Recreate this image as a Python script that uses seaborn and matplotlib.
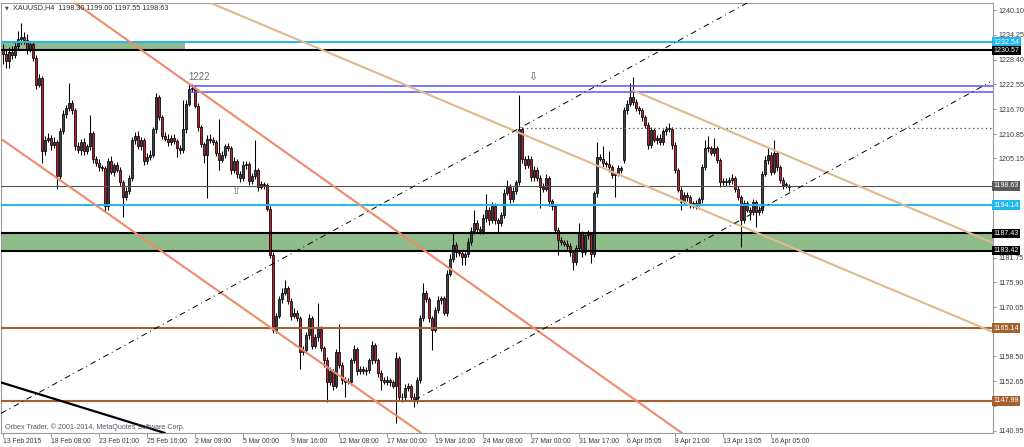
import numpy as np
import pandas as pd
import matplotlib
matplotlib.use("Agg")
import matplotlib.pyplot as plt
import seaborn as sns

# ---- candle data (XAUUSD H4) ----
FIRST_OPEN = 1231.0
CLOSES = [
    1229.8, 1228.0, 1230.2, 1229.5, 1231.5, 1233.2, 1233.8, 1233.0, 1230.8, 1232.0,
    1228.8, 1222.5, 1224.0, 1206.8, 1209.5, 1210.0, 1208.2, 1209.0, 1201.0, 1211.5,
    1215.5, 1217.0, 1218.2, 1216.5, 1208.0, 1207.0, 1209.0, 1206.8, 1208.0, 1211.0,
    1205.0, 1204.0, 1203.0, 1202.8, 1193.8, 1204.5, 1202.0, 1203.5, 1202.5, 1199.5,
    1196.0, 1197.5, 1200.5, 1209.5, 1210.5, 1208.0, 1209.5, 1204.5, 1205.5, 1206.0,
    1212.0, 1219.5, 1214.8, 1210.5, 1209.8, 1209.0, 1210.0, 1209.2, 1207.5, 1207.0,
    1212.0, 1218.0, 1221.5, 1221.8, 1217.5, 1212.5, 1208.5, 1206.0, 1209.8, 1209.5,
    1209.0, 1206.5, 1204.8, 1206.0, 1208.0, 1207.5, 1202.4, 1204.5, 1201.4, 1200.5,
    1203.5, 1203.8, 1199.8, 1201.0, 1202.4, 1198.5, 1199.0, 1198.8, 1193.3, 1182.4,
    1164.7, 1168.0, 1172.0, 1173.5, 1174.5, 1171.5, 1168.0, 1168.8, 1167.5, 1159.5,
    1160.0, 1163.5, 1167.5, 1161.0, 1163.0, 1165.0, 1160.5, 1157.5, 1152.5, 1155.0,
    1151.5, 1159.5, 1156.5, 1153.0, 1152.5, 1152.5, 1157.5, 1160.2, 1155.0, 1155.5,
    1155.0, 1155.2, 1157.5, 1161.2, 1157.5, 1154.5, 1153.0, 1152.5, 1152.8, 1152.5,
    1151.5, 1158.0, 1149.0, 1148.8, 1151.0, 1151.5, 1149.0, 1148.0, 1152.9, 1167.5,
    1173.4, 1172.0, 1167.5, 1164.7, 1169.4, 1171.8, 1172.2, 1168.8, 1178.0, 1181.5,
    1184.8, 1183.0, 1182.8, 1182.0, 1182.5, 1185.5, 1188.0, 1190.0, 1188.5, 1188.0,
    1191.0, 1193.0, 1190.5, 1194.0, 1190.5, 1189.8, 1191.8, 1197.0, 1198.5, 1195.5,
    1197.5, 1199.5, 1212.0, 1205.0, 1203.5, 1205.0, 1200.7, 1202.5, 1200.5, 1198.5,
    1198.0, 1200.5, 1195.0, 1193.8, 1188.2, 1186.0, 1185.5, 1185.0, 1184.5, 1183.0,
    1180.7, 1184.0, 1187.5, 1183.0, 1187.0, 1187.2, 1182.6, 1196.9, 1205.4, 1205.0,
    1204.0, 1203.8, 1203.0, 1201.2, 1201.5, 1202.8, 1202.5, 1216.5, 1218.0, 1219.5,
    1218.5, 1217.0, 1216.5, 1214.8, 1213.0, 1208.3, 1211.8, 1209.5, 1210.0, 1209.0,
    1211.5, 1212.0, 1212.0, 1208.3, 1202.4, 1197.7, 1194.8, 1196.5, 1196.0, 1194.5,
    1194.0, 1194.5, 1195.5, 1203.1, 1207.6, 1207.5, 1206.5, 1207.5, 1204.7, 1199.5,
    1199.8, 1199.5, 1200.0, 1200.5, 1198.0, 1196.0, 1190.6, 1194.5, 1193.0, 1192.5,
    1194.8, 1192.5, 1193.0, 1201.5, 1204.7, 1206.0, 1202.0, 1206.3, 1203.0, 1200.0,
    1198.8, 1198.9, 1198.63,
]
# opens that do not equal the previous close (weekend gap, last bar)
OPEN_GAPS = {207: 1204.7, 262: 1198.30}
UP_WICK = [
    1.0, 0.8, 1.2, 1.5, 1.0, 2.0, 3.2, 1.0, 1.5, 0.8,
    0.6, 0.8, 1.0, 0.5, 0.8, 1.0, 0.6, 1.2, 0.5, 0.8,
    1.0, 0.8, 4.6, 0.6, 0.5, 1.0, 0.8, 1.0, 0.6, 4.3,
    0.5, 0.8, 1.0, 0.6, 0.5, 0.8, 1.2, 0.6, 0.8, 0.5,
    0.6, 1.0, 0.8, 0.6, 0.8, 1.0, 0.6, 0.5, 0.8, 1.0,
    0.6, 1.0, 0.5, 0.6, 0.8, 1.0, 0.6, 0.8, 0.5, 0.8,
    7.0, 1.0, 1.5, 0.8, 0.5, 0.6, 0.5, 0.6, 0.8, 1.0,
    0.6, 0.5, 8.0, 0.8, 0.6, 0.8, 0.5, 1.0, 0.6, 0.8,
    1.0, 0.6, 0.5, 0.8, 7.1, 0.5, 0.8, 0.6, 0.5, 0.5,
    0.6, 0.8, 0.6, 1.0, 2.0, 0.6, 0.8, 1.0, 0.6, 0.5,
    0.8, 0.6, 1.0, 0.5, 0.8, 6.0, 0.6, 0.5, 0.8, 1.0,
    0.6, 0.8, 6.5, 0.6, 0.5, 0.8, 0.6, 1.0, 0.5, 0.8,
    0.6, 0.8, 0.6, 1.0, 0.5, 0.6, 0.8, 0.6, 1.0, 0.6,
    0.5, 1.5, 0.6, 0.8, 1.0, 0.6, 0.5, 0.8, 0.6, 0.8,
    2.4, 0.6, 0.5, 0.6, 0.8, 1.0, 0.6, 0.5, 0.8, 1.0,
    3.0, 0.6, 0.5, 0.8, 0.6, 0.8, 1.0, 3.0, 0.6, 0.8,
    1.0, 3.8, 0.6, 0.8, 0.5, 0.6, 0.8, 1.0, 1.5, 0.5,
    0.8, 0.6, 8.1, 0.6, 0.8, 1.0, 0.6, 0.8, 0.5, 0.6,
    0.8, 1.0, 0.5, 0.6, 0.5, 0.8, 0.6, 0.5, 0.8, 0.6,
    0.5, 0.8, 2.5, 0.6, 0.8, 1.0, 0.6, 0.5, 3.6, 0.8,
    3.0, 0.6, 3.0, 0.6, 0.5, 0.8, 0.6, 0.8, 1.0, 3.4,
    4.8, 0.6, 0.5, 0.6, 0.5, 0.6, 0.8, 0.5, 0.6, 0.8,
    0.6, 0.8, 1.5, 0.5, 0.6, 0.5, 0.6, 0.8, 0.6, 0.5,
    0.6, 0.8, 0.6, 0.8, 1.9, 2.7, 0.6, 2.5, 0.5, 0.6,
    0.8, 0.6, 0.8, 1.0, 0.5, 0.6, 0.5, 0.8, 0.6, 0.6,
    0.8, 0.6, 0.8, 0.6, 1.0, 1.8, 0.6, 3.2, 0.6, 0.5,
    0.8, 0.6, 0.37,
]
DOWN_WICK = [
    2.5, 1.5, 1.5, 1.0, 0.8, 0.6, 1.0, 0.8, 1.0, 0.6,
    0.8, 1.0, 0.6, 2.8, 0.8, 0.6, 1.0, 0.6, 3.2, 0.8,
    0.6, 0.8, 0.6, 1.0, 0.8, 0.6, 1.0, 0.8, 0.6, 0.8,
    1.0, 0.6, 0.8, 0.6, 1.3, 0.8, 0.6, 1.0, 0.6, 0.8,
    4.7, 0.6, 0.8, 0.6, 1.0, 0.6, 0.8, 1.0, 0.6, 0.8,
    0.6, 0.8, 0.6, 0.8, 0.6, 1.0, 0.8, 0.6, 2.0, 0.8,
    0.6, 0.8, 0.6, 0.8, 0.6, 0.8, 0.6, 2.0, 10.2, 0.8,
    0.6, 0.8, 2.4, 0.6, 0.8, 0.6, 1.0, 0.6, 0.8, 1.0,
    0.6, 0.8, 1.0, 0.6, 0.8, 1.0, 0.6, 0.8, 0.6, 0.8,
    0.7, 0.8, 0.6, 1.0, 0.6, 0.8, 1.0, 0.6, 0.8, 4.0,
    0.8, 0.6, 1.0, 0.8, 0.6, 1.0, 0.8, 1.5, 4.8, 0.8,
    1.0, 0.6, 0.8, 1.0, 3.5, 0.6, 0.8, 0.6, 1.0, 0.8,
    0.6, 1.0, 0.6, 0.8, 0.6, 1.0, 2.5, 0.6, 0.8, 1.0,
    0.6, 8.7, 0.8, 1.0, 0.6, 0.8, 1.0, 1.5, 0.6, 0.8,
    0.6, 0.8, 1.0, 4.7, 0.6, 0.8, 1.0, 0.6, 0.8, 0.6,
    0.8, 1.0, 0.6, 2.0, 2.0, 0.6, 0.8, 0.6, 1.0, 0.8,
    0.6, 0.8, 1.0, 0.6, 0.8, 2.3, 0.6, 0.8, 0.6, 1.0,
    0.6, 0.8, 0.6, 1.0, 0.8, 0.6, 1.0, 0.8, 0.6, 5.0,
    0.8, 0.6, 1.0, 0.8, 0.6, 3.6, 0.8, 0.6, 1.0, 0.8,
    1.9, 0.6, 0.8, 1.0, 0.6, 0.8, 2.1, 0.6, 0.8, 0.6,
    0.8, 0.6, 1.0, 0.8, 5.2, 0.6, 0.8, 0.6, 0.8, 0.6,
    0.8, 0.6, 1.0, 0.8, 0.6, 1.0, 0.8, 0.6, 1.0, 0.8,
    0.6, 0.8, 0.6, 1.0, 0.8, 0.6, 1.8, 0.6, 0.8, 1.0,
    0.6, 0.8, 0.6, 1.0, 0.6, 0.8, 0.6, 0.8, 0.6, 1.0,
    0.6, 0.8, 0.6, 1.0, 0.8, 0.6, 6.4, 0.8, 0.6, 2.0,
    0.8, 3.5, 0.6, 0.8, 0.6, 1.0, 0.8, 0.6, 0.8, 0.6,
    0.8, 0.6, 0.75,
]

# ---- axis labels ----
DATE_LABELS = ['13 Feb 2015', '18 Feb 08:00', '23 Feb 01:00', '25 Feb 16:00', '2 Mar 09:00',
               '5 Mar 00:00', '9 Mar 16:00', '12 Mar 08:00', '17 Mar 00:00', '19 Mar 16:00',
               '24 Mar 08:00', '27 Mar 00:00', '31 Mar 17:00', '6 Apr 05:05', '8 Apr 21:00',
               '13 Apr 13:05', '16 Apr 05:00']
DATE_BARS = [0, 16, 32, 48, 64, 80, 96, 112, 128, 144, 160, 176, 192, 208, 224, 240, 256]
PRICE_TICKS = [1240.10, 1234.25, 1228.40, 1222.55, 1216.70, 1210.85, 1205.15, 1199.30, 1193.45,
               1187.60, 1181.75, 1175.90, 1170.05, 1164.20, 1158.50, 1152.65, 1146.80, 1140.95]
# tick labels that sit under a price tag on the chart
HIDDEN_TICKS = [1199.30, 1193.45, 1187.60, 1164.20, 1146.80]

# ---- drawn objects (bar index, price) ----
CYAN_LEVELS = [1232.54, 1194.14]
BLACK_LEVELS = [1230.57, 1187.43, 1183.42]
BROWN_LEVELS = [1165.14, 1147.99]
LAST_PRICE = 1198.63
BLUE_LEVELS = [1222.2, 1220.8]
BLUE_START = 62.3
DOTTED_LEVEL = 1212.2
DOTTED_START = 173.0
ZONE_TOP = (60.7, 1230.57, 1232.54)
ZONE_MID = (1183.42, 1187.43)
SALMON_UPPER = [(27.3, 1240.1), (226.3, 1140.4)]
SALMON_LOWER = [(-1.0, 1209.9), (138.0, 1141.1)]
TAN_LONG = [(66.7, 1242.5), (330.0, 1164.2)]
TAN_SHORT = [(209.7, 1221.25), (330.0, 1185.2)]
DASH_UPPER = [(-1.0, 1144.9), (248.0, 1241.75)]
DASH_LOWER = [(137.3, 1148.2), (329.0, 1223.1)]
BLACK_TREND = [(-1.0, 1152.4), (54.0, 1140.4)]
PRICE_TAGS = [(1232.54, '#1fb8f0'), (1230.57, '#000000'), (1198.63, '#5a5a5a'),
              (1194.14, '#1fb8f0'), (1187.43, '#000000'), (1183.42, '#000000'),
              (1165.14, '#a5602f'), (1147.99, '#a5602f')]

sns.set_theme(style="white")
plt.rcParams['font.family'] = ['Liberation Sans', 'DejaVu Sans']

df = pd.DataFrame({'close': CLOSES, 'up': UP_WICK, 'dn': DOWN_WICK})
df['open'] = [FIRST_OPEN] + CLOSES[:-1]
for k, v in OPEN_GAPS.items():
    df.loc[k, 'open'] = v
df['top'] = df[['open', 'close']].max(axis=1)
df['bot'] = df[['open', 'close']].min(axis=1)
df['high'] = df['top'] + df['up']
df['low'] = df['bot'] - df['dn']
bull = df['close'] >= df['open']

fig = plt.figure(figsize=(10.24, 4.47), dpi=100)
ax = fig.add_axes([1 / 1024, 14 / 447, 992 / 1024, 430 / 447])
ax.set_facecolor('white')
ax.set_xlim(-0.67, 330)
ax.set_ylim(1140.41, 1241.75)

# support zones
ax.fill_between([-0.67, ZONE_TOP[0]], ZONE_TOP[1], ZONE_TOP[2], color='#8fbc8a', lw=0, zorder=1)
ax.axhspan(ZONE_MID[0], ZONE_MID[1], color='#8fbc8a', lw=0, zorder=1)

# candles
ax.vlines(df.index, df['low'], df['high'], color='black', lw=0.75, zorder=3)
heights = (df['top'] - df['bot']).clip(lower=0.2)
ax.bar(df.index[bull], heights[bull], bottom=df['bot'][bull], width=0.62,
       color='#3c434c', edgecolor='black', linewidth=0.55, zorder=4)
ax.bar(df.index[~bull], heights[~bull], bottom=df['bot'][~bull], width=0.62,
       color='#c41e30', edgecolor='black', linewidth=0.55, zorder=4)

# horizontal levels
for p in CYAN_LEVELS:
    ax.axhline(p, color='#1fb8f0', lw=1.4, zorder=5)
for p in BLACK_LEVELS:
    ax.axhline(p, color='black', lw=1.5, zorder=5)
for p in BROWN_LEVELS:
    ax.axhline(p, color='#a5602f', lw=1.5, zorder=5)
ax.axhline(LAST_PRICE, color='#505050', lw=0.8, zorder=5)
for p in BLUE_LEVELS:
    ax.hlines(p, BLUE_START, 330, color='#5555ff', lw=1.1, zorder=5)
ax.hlines(DOTTED_LEVEL, DOTTED_START, 330, color='#606060', lw=0.9, linestyles=(0, (1.2, 2.2)), zorder=5)

# trend lines
ax.axline(*SALMON_UPPER, color='#ef8a6a', lw=1.5, zorder=5)
ax.axline(*SALMON_LOWER, color='#ef8a6a', lw=1.5, zorder=5)
ax.axline(*TAN_LONG, color='#e0b98c', lw=1.5, zorder=5)
ax.plot(*zip(*TAN_SHORT), color='#e0b98c', lw=1.5, zorder=5)
ax.axline(*DASH_UPPER, color='black', lw=0.7, ls=(0, (6, 4, 1, 4)), zorder=5)
ax.plot(*zip(*DASH_LOWER), color='black', lw=0.7, ls=(0, (6, 4, 1, 4)), zorder=5)
ax.axline(*BLACK_TREND, color='black', lw=1.6, zorder=5)

# annotations
ax.text(65.5, 1224.3, '1222', fontsize=7, color='#6a6a6a', ha='center', va='center', zorder=6)
ax.text(77.7, 1197.4, '\u21e7', fontsize=8, color='#5a7fa8', ha='center', va='center',
        family='DejaVu Sans', zorder=6)
ax.text(176.7, 1224.4, '\u21e9', fontsize=8, color='#606060', ha='center', va='center',
        family='DejaVu Sans', zorder=6)
fig.text(5 / 1024, 1 - 8 / 447, '\u25bc', fontsize=3.5, color='#404040', va='center',
         family='DejaVu Sans')
fig.text(13 / 1024, 1 - 8 / 447, 'XAUUSD,H4  1198.30 1199.00 1197.55 1198.63', fontsize=5.2,
         color='#303030', va='center')
fig.text(5 / 1024, 1 - 427 / 447, 'Orbex Trader, \u00a9 2001-2014, MetaQuotes Software Corp.',
         fontsize=5.1, color='#4a5868', va='center')

# axes styling
for s in ax.spines.values():
    s.set_color('#9a9a9a')
    s.set_linewidth(0.8)
ax.yaxis.tick_right()
ax.set_yticks(PRICE_TICKS)
ax.set_yticklabels(['' if p in HIDDEN_TICKS else f'{p:.2f}' for p in PRICE_TICKS])
ax.tick_params(axis='y', right=True, direction='out', length=2.5, width=0.6, color='#808080',
               labelsize=5.1, labelcolor='#3a3a3a', pad=1.5)
ax.set_xticks(DATE_BARS)
ax.set_xticklabels(DATE_LABELS, ha='left')
ax.tick_params(axis='x', bottom=True, direction='out', length=3, width=0.6, color='#808080',
               labelsize=4.9, labelcolor='#3a3a3a', pad=0.8)
ax.grid(False)

for p, c in PRICE_TAGS:
    ax.annotate(f'{p:.2f}', xy=(1.0, p), xycoords=('axes fraction', 'data'),
                xytext=(0.4, 0), textcoords='offset points', ha='left', va='center',
                fontsize=5.1, color='white', annotation_clip=False, zorder=10,
                bbox=dict(boxstyle='square,pad=0.2', fc=c, ec='none'))

fig.savefig('out.png', dpi=100)
